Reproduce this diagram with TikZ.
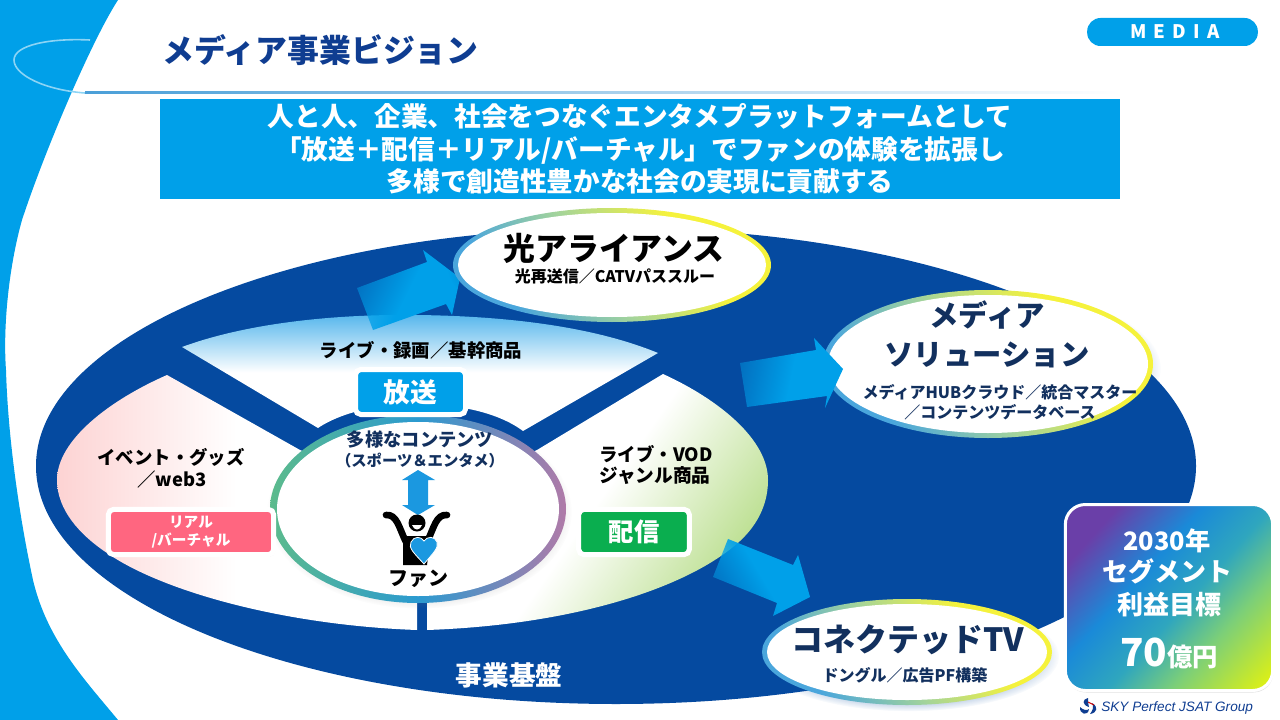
\documentclass[tikz,border=0pt]{standalone}
\usepackage{fontspec}
\setmainfont{Noto Sans CJK JP}
\newfontfamily\logofont{Liberation Sans}
\usetikzlibrary{shapes.geometric,shadows,fadings}

\definecolor{sky}{HTML}{00A0E9}
\definecolor{deepblue}{HTML}{054AA0}
\definecolor{navy}{HTML}{12305E}
\definecolor{titleblue}{HTML}{0F3D91}
\definecolor{rosetag}{HTML}{FF6680}
\definecolor{greentag}{HTML}{0AAE4F}
\definecolor{rosefade}{HTML}{FDD3D3}
\definecolor{greenfade}{HTML}{B9DE8C}
\definecolor{skyfade}{HTML}{55B6EC}
\definecolor{fanblue}{HTML}{1B98E0}
\definecolor{ruleblue}{HTML}{4A9FD8}
\definecolor{hubA}{HTML}{5CBB8C}
\definecolor{hubB}{HTML}{2B9AD0}
\definecolor{hubC}{HTML}{B07AA8}
\definecolor{goalA}{HTML}{6A3FA8}
\definecolor{goalB}{HTML}{1A8AD8}
\definecolor{goalC}{HTML}{2FA6BE}
\definecolor{goalD}{HTML}{7CCF78}
\definecolor{goalE}{HTML}{E2F210}
\definecolor{rimA}{HTML}{4AA6DC}
\definecolor{rimB}{HTML}{A4D49A}
\definecolor{rimC}{HTML}{F5F23C}

\pgfdeclarehorizontalshading{goalgrad}{100bp}{color(0bp)=(goalA); color(25bp)=(goalA); color(41bp)=(goalB); color(54bp)=(goalC); color(66bp)=(goalD); color(84bp)=(goalE); color(100bp)=(goalE)}
\pgfdeclarehorizontalshading{rimgrad}{100bp}{color(0bp)=(rimA); color(28bp)=(rimA); color(47bp)=(rimB); color(66bp)=(rimC); color(100bp)=(rimC)}
\tikzfading[name=arrowfade, left color=transparent!55, right color=transparent!0, middle color=transparent!0]

\tikzset{
	txt/.style={font=\bfseries\fontsize{#1}{#1}\selectfont, inner sep=0pt, align=center},
	rimoval/.style={ellipse, inner sep=0pt, shading=rimgrad, shading angle=35, circular drop shadow={shadow xshift=1pt, shadow yshift=-3pt, shadow scale=1.04, fill=deepblue, opacity=.25}},
	whiteoval/.style={ellipse, inner sep=0pt, fill=white},
	tagbox/.style={rounded corners=4pt, draw=white, line width=3.75pt, text=white, inner sep=0pt, drop shadow={shadow xshift=1pt, shadow yshift=-1.5pt, opacity=.15}},
	bigarrow/.style={fill=sky, path fading=arrowfade, fading angle=#1},
}

\begin{document}
\begin{tikzpicture}[y=-0.75pt,x=0.75pt]
	\useasboundingbox (0,0) rectangle (1280,720);

	% band on the left
	\fill[sky] (0,0) -- (118,0) .. controls (92,40) and (45,150) .. (22,220) .. controls (8,270) and (3,330) .. (6,370) .. controls (8,440) and (20,520) .. (33,580) .. controls (47,640) and (85,680) .. (118,720) -- (0,720) -- cycle;
	\draw[white!55!sky, line width=1.2pt] (90,40) .. controls (50,38) and (14,45) .. (14,60) .. controls (14,75) and (45,90) .. (85,93);
	\shade[left color=ruleblue, right color=white] (85,92) rectangle (1120,94);

	% title, tag and banner
	\node (title) [txt=23.9pt, text=titleblue, anchor=west] at (162,50) {メディア事業ビジョン};
	\node (media) [fill=sky, rounded corners=10pt, minimum width=128pt, minimum height=21pt, inner sep=0pt] at (1172.5,32) {};
	\node (mediatext) [inner sep=0pt, text=white, font=\bfseries\fontsize{14pt}{14pt}\selectfont\addfontfeature{LetterSpace=38}] at (1175,32) {MEDIA};
	\node (banner) [fill=sky, minimum width=720pt, minimum height=75pt, inner sep=0pt, text=white, align=center, font=\bfseries\fontsize{20pt}{24.4pt}\selectfont] at (640,149) {人と人、企業、社会をつなぐエンタメプラットフォームとして\\「放送＋配信＋リアル/バーチャル」でファンの体験を拡張し\\多様で創造性豊かな社会の実現に貢献する};

	% base ellipse and the three sectors
	\fill[deepblue] (616,466) ellipse [x radius=580, y radius=238];
	\shade[top color=skyfade, bottom color=white, middle color=white] (182,347) .. controls (250,322) and (340,314) .. (417,315) .. controls (500,316) and (590,325) .. (658,353) -- (523,431) .. controls (495,410) and (450,404) .. (418,404) .. controls (385,404) and (345,410) .. (318,428) -- cycle;
	\shade[left color=rosefade, right color=white, middle color=white] (167,375) .. controls (110,400) and (57,440) .. (57,480) .. controls (57,510) and (80,535) .. (107,553) .. controls (160,590) and (280,625) .. (417,630) -- (417,500) -- (300,450) -- cycle;
	\shade[top color=white, bottom color=greenfade, middle color=white, shading angle=55] (663,374) .. controls (720,400) and (768,440) .. (768,480) .. controls (768,510) and (752,532) .. (733,547) .. controls (680,590) and (570,625) .. (427,630) -- (427,500) -- (537,450) -- cycle;

	% arrows
	\fill[bigarrow=25] (728,539) -- (793,565) -- (798,555) -- (810,597) -- (773,616) -- (777,603) -- (713,577) -- cycle;

	% hub
	\node (hubrim) [ellipse, inner sep=0pt, minimum width=222pt, minimum height=141pt, left color=hubA, right color=hubC, middle color=hubB, circular drop shadow={shadow xshift=1pt, shadow yshift=-2pt, shadow scale=1.03, opacity=.25}] at (418,509) {};
	\node (hub) [whiteoval, minimum width=211.5pt, minimum height=130.5pt] at (hubrim) {};
	\node (contents) [txt=13.7pt, text=navy] at (420,440) {多様なコンテンツ};
	\node (genres) [txt=11.5pt, text=navy] at (420,461) {（スポーツ＆エンタメ）};
	\fill[fanblue] (418,470) -- (435,480) -- (428,480) -- (428,505) -- (435,505) -- (418,515) -- (402,505) -- (408,505) -- (408,480) -- (402,480) -- cycle;

	% fan figure
	\fill (403,536) -- (431,536) -- (427,565) -- (403,565) -- cycle;
	\draw[line width=5pt, line cap=round] (386,515) .. controls (397,514) and (399,528) .. (406,542);
	\draw[line width=5pt, line cap=round] (447,515) .. controls (436,514) and (434,528) .. (427,542);
	\fill (417,523) circle [radius=8.5];
	\fill[white] (412,525) .. controls (414,531) and (420,531) .. (422,525) -- cycle;
	\fill[fanblue, draw=white, line width=.6pt] (424,564) .. controls (414,553) and (408,548) .. (411,542) .. controls (414,536) and (421,536) .. (424,541) .. controls (427,536) and (435,536) .. (437,542) .. controls (439,548) and (433,553) .. (424,564) -- cycle;
	\node (fan) [txt=15pt] at (418,579) {ファン};

	% sector texts and tags
	\node (broadcast) [txt=13.8pt] at (421,350) {ライブ・録画／基幹商品};
	\node (hoso) [tagbox, fill=sky, minimum width=82.5pt, minimum height=33.75pt, txt=20pt, inner sep=0pt] at (410.5,392) {放送};
	\node (events) [txt=13.8pt] at (171,457) {イベント・グッズ};
	\node (webthree) [txt=13.8pt] at (172,480) {／web3};
	\node (real) [tagbox, fill=rosetag, minimum width=124pt, minimum height=34pt, font=\bfseries\fontsize{11pt}{14pt}\selectfont, align=center] at (191,532) {リアル\\/バーチャル};
	\node (vod) [txt=13.8pt] at (656,454) {ライブ・VOD};
	\node (genre) [txt=14pt] at (655,476) {ジャンル商品};
	\node (haishin) [tagbox, fill=greentag, minimum width=83pt, minimum height=34pt, txt=19pt, inner sep=0pt] at (634,532) {配信};
	\node (base) [txt=20pt, text=white] at (509,675) {事業基盤};

	% outer ovals
	\fill[bigarrow=-21] (357,288) -- (427,262) -- (423,250) -- (460,278) -- (452,315) -- (446,304) -- (373,330) -- cycle;
	\node (hikaririm) [rimoval, minimum width=238.5pt, minimum height=85.5pt] at (612,265) {};
	\node (hikari) [whiteoval, minimum width=231pt, minimum height=78pt] at (hikaririm) {};
	\node (hikarititle) [txt=23.9pt] at (614,248) {光アライアンス};
	\node (hikarisub) [txt=12pt] at (615,276) {光再送信／CATVパススルー};

	\node (solutionrim) [rimoval, minimum width=247.5pt, minimum height=111pt] at (988,364) {};
	\node (solution) [whiteoval, minimum width=240pt, minimum height=103.5pt] at (solutionrim) {};
	\node (solutiontitle) [txt=22pt, text=navy] at (987,315) {メディア};
	\node (solutiontitleb) [txt=22pt, text=navy] at (987,355) {ソリューション};
	\node (solutionsub) [txt=12pt, text=navy] at (1000,392) {メディアHUBクラウド／統合マスター};
	\node (solutionsubb) [txt=12pt, text=navy] at (1000,412) {／コンテンツデータベース};
	\fill[bigarrow=-8] (740,363) -- (816,350) -- (814,338) -- (843,369) -- (825,408) -- (827,396) -- (747,407) -- cycle;

	\node (connectedrim) [rimoval, minimum width=217.5pt, minimum height=79.5pt] at (907,652) {};
	\node (connected) [whiteoval, minimum width=210pt, minimum height=72pt] at (connectedrim) {};
	\node (connectedtitle) [txt=24pt, text=navy] at (908,640) {コネクテッドTV};
	\node (connectedsub) [txt=12pt, text=navy] at (905,675) {ドングル／広告PF構築};

	% goal box
	\node (goal) [draw=white, line width=2.25pt, shading=goalgrad, shading angle=-42, rounded corners=15pt, minimum width=155.5pt, minimum height=139.5pt, inner sep=0pt, drop shadow={shadow xshift=.5pt, shadow yshift=-1.5pt, opacity=.25}] at (1169,597.5) {};
	\node (goalyear) [txt=19pt, text=white] at (1167,541) {2030年};
	\node (goalseg) [txt=19.5pt, text=white] at (1167,571) {セグメント};
	\node (goalname) [txt=19.5pt, text=white] at (1169,605) {利益目標};
	\node (goalvalue) [text=white, inner sep=0pt, font=\bfseries\fontsize{19pt}{19pt}\selectfont] at (1169,653) {{\fontsize{29pt}{29pt}\selectfont 70}億円};

	% logo
	\fill[titleblue] (1088,698) .. controls (1082,699) and (1082,705) .. (1089,707) .. controls (1088,703) and (1088,701) .. (1088,698) -- cycle;
	\fill[titleblue] (1080,707) .. controls (1079,714) and (1088,717) .. (1089,709) .. controls (1087,711) and (1083,710) .. (1080,707) -- cycle;
	\fill[titleblue] (1090,714) .. controls (1097,713) and (1099,707) .. (1092,703) .. controls (1094,707) and (1093,710) .. (1090,714) -- cycle;
	\draw[red!80!black, line width=.7pt] (1088,702) -- (1094,705);
	\node (logo) [inner sep=0pt, anchor=west, text=titleblue, font=\logofont\itshape\fontsize{10.2pt}{10.2pt}\selectfont] at (1101,708) {SKY Perfect JSAT Group};
\end{tikzpicture}
\end{document}
